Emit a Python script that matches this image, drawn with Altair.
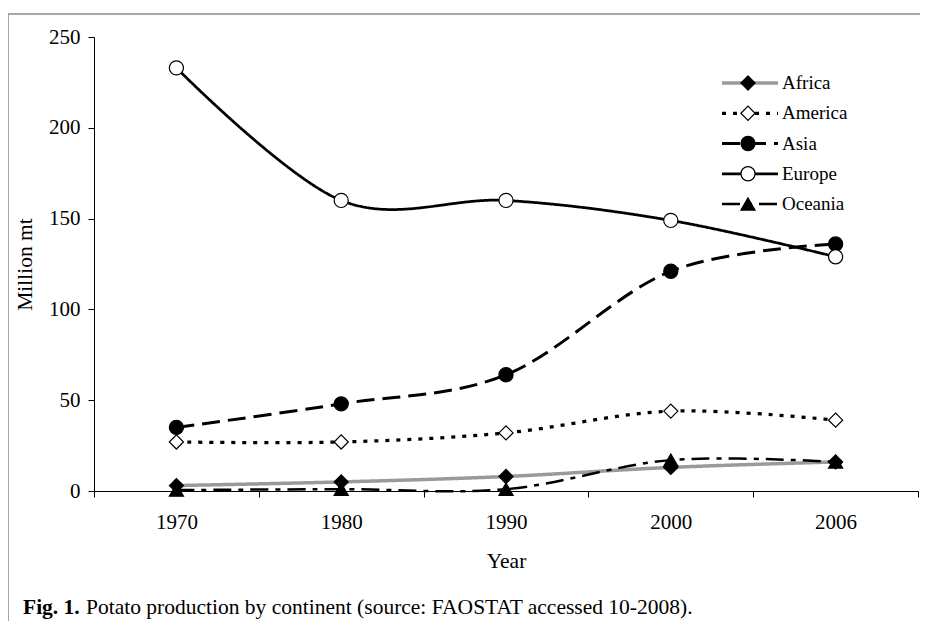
import altair as alt
import pandas as pd

years = ["1970", "1980", "1990", "2000", "2006"]
series = ["Africa", "America", "Asia", "Europe", "Oceania"]
africa = [3, 5, 8, 13, 16]
america = [27, 27, 32, 44, 39]
asia = [35, 48, 64, 121, 136]
europe = [233, 160, 160, 149, 129]
oceania = [0.5, 1, 1, 17, 16]
caption_bold = "Fig. 1."
caption_rest = "Potato production by continent (source: FAOSTAT accessed 10-2008)."

values = {"Africa": africa, "America": america, "Asia": asia, "Europe": europe, "Oceania": oceania}
rows = []
for s in series:
    for y, v in zip(years, values[s]):
        rows.append({"series": s, "year": y, "value": v})
df = pd.DataFrame(rows)
leg = pd.DataFrame({"series": series})

FONT = "Liberation Serif"
W, H = 824, 454

color_s = alt.Scale(domain=series, range=["#9a9a9a", "black", "black", "black", "black"])
dash_s = alt.Scale(domain=series, range=[[1, 0], [4, 7], [18, 8], [1, 0], [18, 7, 5, 7]])
width_s = alt.Scale(domain=series, range=[3.5, 2.5, 2.5, 2, 2.5])
shape_s = alt.Scale(domain=series, range=["diamond", "diamond", "circle", "circle", "triangle-up"])
fill_s = alt.Scale(domain=series, range=["black", "white", "black", "white", "black"])

x_enc = alt.X("year:O", sort=years, bandPosition=0.5,
              scale=alt.Scale(type="band", domain=years, paddingInner=0, paddingOuter=0),
              axis=alt.Axis(title="Year", tickBand="extent", labelAngle=0))
y_enc = alt.Y("value:Q", scale=alt.Scale(domain=[0, 250], nice=False),
              axis=alt.Axis(title="Million mt", values=[0, 50, 100, 150, 200, 250], grid=False))

base = alt.Chart(df)
lines = base.mark_line(interpolate="cardinal").encode(
    x=x_enc, y=y_enc,
    color=alt.Color("series:N", scale=color_s, legend=None),
    strokeDash=alt.StrokeDash("series:N", scale=dash_s, legend=None),
    strokeWidth=alt.StrokeWidth("series:N", scale=width_s, legend=None),
    detail="series:N",
)
points = base.mark_point(size=200, strokeWidth=1.2, stroke="black", opacity=1, filled=False).encode(
    x=x_enc,
    y=alt.Y("value:Q", scale=alt.Scale(domain=[0, 250], nice=False), axis=None),
    shape=alt.Shape("series:N", scale=shape_s, legend=None),
    fill=alt.Fill("series:N", scale=fill_s, legend=None),
)

leg_y = alt.Y("series:N", scale=alt.Scale(type="point", domain=series, range=[46, 167], padding=0), axis=None)
leg_base = alt.Chart(leg)
leg_lines = leg_base.mark_rule().encode(
    x=alt.value(628), x2=alt.value(684), y=leg_y,
    color=alt.Color("series:N", scale=color_s, legend=None),
    strokeDash=alt.StrokeDash("series:N", scale=dash_s, legend=None),
    strokeWidth=alt.StrokeWidth("series:N", scale=width_s, legend=None),
)
leg_points = leg_base.mark_point(size=200, strokeWidth=1.2, stroke="black", opacity=1, filled=False).encode(
    x=alt.value(654), y=leg_y,
    shape=alt.Shape("series:N", scale=shape_s, legend=None),
    fill=alt.Fill("series:N", scale=fill_s, legend=None),
)
leg_text = leg_base.mark_text(align="left", baseline="middle", font=FONT, fontSize=19).encode(
    x=alt.value(688), y=leg_y, text="series:N"
)

frame = alt.Chart(pd.DataFrame({"a": [0]})).mark_rect(
    fill=None, stroke="#a6a6a6", strokeWidth=2, clip=False
).encode(x=alt.value(-86), x2=alt.value(W + 40), y=alt.value(-23), y2=alt.value(H + 200))

cap1 = alt.Chart(pd.DataFrame({"t": [caption_bold]})).mark_text(
    align="left", baseline="alphabetic", font=FONT, fontSize=21.5, fontWeight="bold"
).encode(x=alt.value(-71), y=alt.value(577), text="t:N")
cap2 = alt.Chart(pd.DataFrame({"t": [caption_rest]})).mark_text(
    align="left", baseline="alphabetic", font=FONT, fontSize=21.5
).encode(x=alt.value(-8), y=alt.value(577), text="t:N")

chart = alt.layer(frame, lines, points, leg_lines, leg_points, leg_text, cap1, cap2).resolve_scale(
    y="independent"
).properties(
    width=W, height=H,
    autosize=alt.AutoSizeParams(type="none"),
    padding={"left": 86, "top": 29, "right": 2, "bottom": 130},
).configure_view(stroke=None).configure_axis(
    labelFont=FONT, titleFont=FONT, labelFontSize=21, titleFontSize=21.5,
    titleFontWeight="normal", labelColor="black", titleColor="black",
    domainColor="black", tickColor="black", tickSize=6, domainWidth=1, tickWidth=1,
).configure_axisX(labelPadding=14, titlePadding=18).configure_axisY(labelPadding=8, titlePadding=12)

chart.save("out.html", embed_options={"renderer": "svg", "actions": False})
